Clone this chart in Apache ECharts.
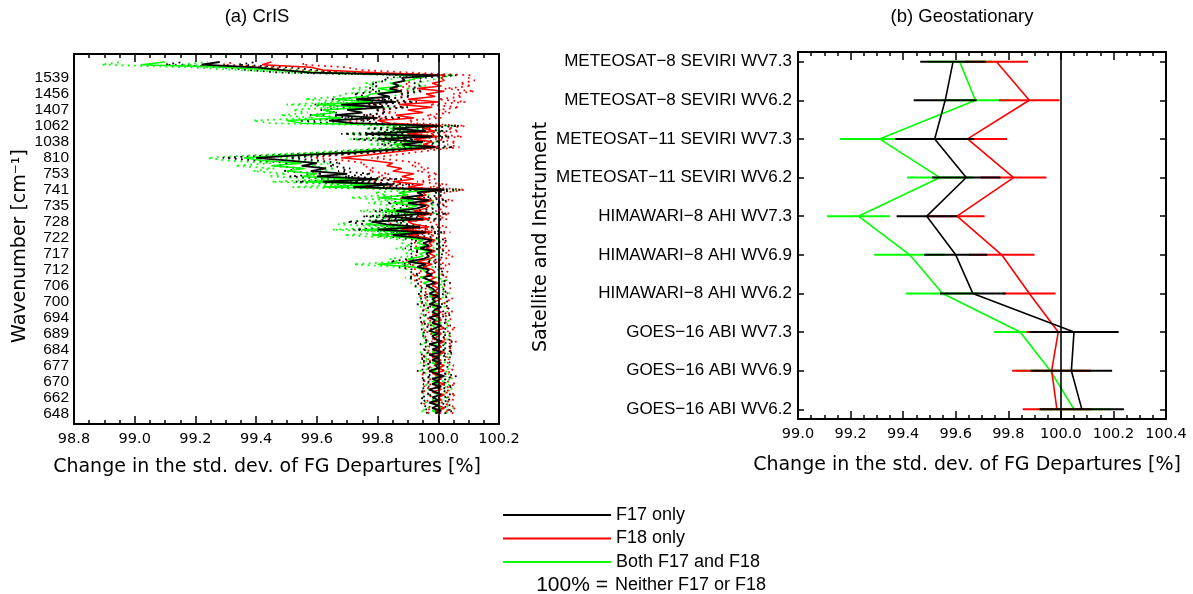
<!DOCTYPE html>
<html>
<head>
<meta charset="utf-8">
<title>Change in the std. dev. of FG departures</title>
<script src="https://cdn.jsdelivr.net/npm/echarts@6/dist/echarts.min.js"></script>
<style>
  html, body { margin: 0; padding: 0; background: #fff; }
  #chart { width: 1193px; height: 594px; }
</style>
</head>
<body>
<div id="chart"></div>
<script>
'use strict';

// ---------- (a) CrIS : one value per channel, bottom (648) to top ----------
var wnLabels = ['648', '662', '670', '677', '684', '689', '694', '700', '706', '712', '717',
                '722', '728', '735', '741', '753', '810', '1038', '1062', '1407', '1456', '1539'];
var chPerLabel = 6;   // channels between two labelled wavenumbers

var crisF17 = [
  99.99, 100.01, 99.98, 100.00, 99.97, 100.00,
  99.98, 100.01, 99.99, 99.97, 100.01, 99.98,
  100.00, 99.98, 100.02, 99.99, 99.97, 100.00,
  99.99, 100.01, 99.98, 100.00, 99.97, 100.01,
  99.98, 100.00, 99.97, 100.01, 99.99, 99.98,
  100.00, 99.97, 99.99, 100.01, 99.98, 99.99,
  99.97, 100.00, 99.98, 99.99, 100.01, 99.97,
  99.99, 99.98, 100.00, 99.97, 99.99, 99.98,
  99.96, 99.99, 99.97, 99.95, 99.98, 99.96,
  99.97, 99.93, 99.96, 99.90, 99.95, 99.97,
  99.96, 99.98, 99.94, 99.97, 99.95, 99.98,
  99.93, 99.85, 99.96, 99.80, 99.94, 99.83,
  99.78, 99.95, 99.82, 99.97, 99.86, 99.93,
  99.96, 99.90, 99.97, 99.88, 99.95, 99.93,
  100.02, 99.72, 99.85, 99.62, 99.80, 99.60,
  99.70, 99.58, 99.63, 99.55, 99.60, 99.50,
  99.40, 99.55, 99.72, 99.84, 99.99, 99.88,
  99.95, 99.80, 99.98, 99.76, 99.96, 99.85,
  100.00, 99.72, 99.64, 99.80, 99.66, 99.75,
  99.70, 99.82, 99.68, 99.86, 99.73, 99.84,
  99.80, 99.88, 99.84, 99.87, 99.85, 99.89,
  99.88, 100.00, 99.58, 99.48, 99.40, 99.22, 99.28
];
var crisF18 = [
  100.01, 99.99, 100.02, 100.00, 99.98, 100.01,
  100.00, 100.02, 99.98, 100.01, 99.99, 100.02,
  99.99, 100.01, 100.00, 99.98, 100.02, 100.00,
  100.02, 99.99, 100.01, 99.98, 100.00, 100.02,
  99.99, 100.01, 100.00, 100.02, 99.98, 100.00,
  100.01, 99.99, 100.02, 100.00, 99.98, 100.01,
  100.00, 99.98, 100.01, 99.99, 100.00, 99.98,
  99.99, 100.01, 99.98, 100.00, 99.99, 100.00,
  99.98, 100.00, 99.97, 99.99, 99.96, 99.99,
  99.98, 99.95, 99.98, 99.93, 99.97, 99.99,
  99.97, 99.99, 99.96, 99.98, 99.97, 99.99,
  99.96, 99.90, 99.98, 99.88, 99.97, 99.92,
  99.90, 99.97, 99.93, 99.98, 99.92, 99.96,
  99.97, 99.94, 99.98, 99.93, 99.96, 99.95,
  100.02, 99.90, 99.95, 99.85, 99.92, 99.88,
  99.92, 99.85, 99.88, 99.83, 99.85, 99.78,
  99.68, 99.76, 99.84, 99.92, 100.00, 99.95,
  99.98, 99.92, 100.00, 99.90, 99.99, 99.95,
  100.01, 99.84, 99.80, 99.92, 99.86, 99.95,
  99.90, 99.98, 99.87, 100.00, 99.90, 99.99,
  99.96, 100.02, 99.93, 100.01, 99.98, 100.02,
  100.01, 100.02, 99.80, 99.62, 99.58, 99.42, 99.45
];
var crisBoth = [
  100.00, 99.98, 100.01, 99.99, 100.00, 99.98,
  99.99, 100.00, 99.98, 100.01, 99.99, 100.00,
  99.98, 100.01, 99.99, 100.00, 99.98, 100.01,
  100.00, 99.98, 100.00, 99.99, 100.01, 99.98,
  99.99, 100.01, 99.98, 100.00, 99.99, 100.00,
  99.98, 100.00, 99.99, 99.98, 100.01, 99.99,
  100.00, 99.98, 99.99, 100.00, 99.98, 100.00,
  99.98, 99.99, 99.97, 100.00, 99.98, 99.97,
  99.97, 99.95, 99.98, 99.94, 99.97, 99.96,
  99.95, 99.92, 99.80, 99.93, 99.90, 99.95,
  99.94, 99.97, 99.92, 99.96, 99.93, 99.95,
  99.90, 99.78, 99.93, 99.75, 99.92, 99.76,
  99.80, 99.92, 99.85, 99.94, 99.82, 99.90,
  99.93, 99.85, 99.92, 99.80, 99.90, 99.87,
  100.00, 99.62, 99.78, 99.56, 99.72, 99.55,
  99.60, 99.50, 99.56, 99.45, 99.55, 99.42,
  99.36, 99.50, 99.68, 99.80, 99.97, 99.85,
  99.93, 99.80, 99.96, 99.78, 99.95, 99.84,
  99.99, 99.55, 99.50, 99.68, 99.58, 99.66,
  99.62, 99.75, 99.60, 99.78, 99.66, 99.76,
  99.78, 99.86, 99.80, 99.88, 99.84, 99.90,
  99.93, 99.98, 99.62, 99.45, 99.30, 99.02, 99.10
];

// half width of the dotted uncertainty range, per channel
var crisF17Err = [
  .03, .04, .03, .04, .03, .04,  .04, .03, .04, .03, .04, .03,
  .03, .04, .04, .03, .04, .03,  .04, .03, .04, .04, .03, .04,
  .03, .04, .03, .04, .04, .03,  .04, .03, .04, .03, .04, .04,
  .03, .04, .03, .04, .03, .04,  .04, .04, .03, .04, .04, .03,
  .04, .05, .04, .05, .04, .05,  .05, .06, .05, .06, .05, .05,
  .05, .04, .05, .05, .04, .05,  .06, .07, .06, .08, .06, .07,
  .08, .06, .07, .06, .07, .06,  .06, .07, .06, .07, .06, .06,
  .06, .08, .07, .09, .08, .09,  .08, .09, .08, .09, .08, .10,
  .11, .09, .08, .07, .06, .07,  .07, .08, .06, .08, .07, .08,
  .07, .09, .10, .08, .09, .08,  .09, .08, .09, .07, .08, .07,
  .08, .07, .07, .07, .07, .06,  .06, .06, .10, .11, .11, .12, .12
];
var crisF18Err = [
  .04, .03, .04, .04, .03, .04,  .03, .04, .04, .03, .04, .04,
  .04, .03, .04, .04, .03, .04,  .03, .04, .03, .04, .04, .03,
  .04, .04, .03, .04, .03, .04,  .03, .04, .04, .03, .04, .03,
  .04, .03, .04, .04, .03, .04,  .03, .04, .04, .03, .04, .04,
  .04, .04, .05, .04, .05, .04,  .05, .05, .06, .05, .05, .06,
  .05, .05, .04, .05, .05, .04,  .06, .07, .06, .07, .06, .07,
  .07, .06, .07, .06, .07, .06,  .06, .06, .07, .06, .06, .07,
  .07, .07, .08, .08, .07, .08,  .08, .08, .09, .08, .09, .09,
  .10, .09, .08, .07, .07, .08,  .08, .07, .08, .07, .08, .08,
  .08, .09, .10, .09, .10, .09,  .10, .09, .10, .09, .10, .09,
  .09, .10, .09, .10, .09, .10,  .09, .09, .11, .12, .12, .13, .12
];
var crisBothErr = [
  .03, .04, .04, .03, .04, .03,  .04, .03, .04, .04, .03, .04,
  .03, .04, .03, .04, .04, .03,  .04, .04, .03, .04, .03, .04,
  .03, .04, .04, .03, .04, .04,  .04, .03, .04, .04, .03, .04,
  .03, .04, .04, .03, .04, .03,  .04, .03, .04, .04, .03, .04,
  .05, .04, .05, .05, .04, .05,  .05, .06, .08, .06, .06, .05,
  .05, .05, .06, .05, .05, .06,  .07, .09, .06, .10, .07, .09,
  .09, .07, .08, .06, .08, .07,  .07, .08, .07, .09, .07, .08,
  .07, .10, .09, .11, .09, .11,  .10, .11, .10, .12, .10, .12,
  .12, .11, .09, .08, .06, .08,  .07, .09, .07, .09, .07, .08,
  .07, .10, .11, .09, .10, .09,  .10, .09, .10, .09, .10, .09,
  .09, .08, .09, .08, .08, .07,  .07, .07, .10, .11, .12, .13, .14
];

// ---------- (b) Geostationary : bottom to top ----------
var geoNames = ['GOES\u221216 ABI WV6.2', 'GOES\u221216 ABI WV6.9', 'GOES\u221216 ABI WV7.3',
                'HIMAWARI\u22128 AHI WV6.2', 'HIMAWARI\u22128 AHI WV6.9', 'HIMAWARI\u22128 AHI WV7.3',
                'METEOSAT\u221211 SEVIRI WV6.2', 'METEOSAT\u221211 SEVIRI WV7.3',
                'METEOSAT\u22128 SEVIRI WV6.2', 'METEOSAT\u22128 SEVIRI WV7.3'];
var geoF17 = [100.08, 100.04, 100.05, 99.665, 99.60, 99.49, 99.64, 99.52, 99.56, 99.59];
var geoF17Err = [0.16, 0.155, 0.17, 0.125, 0.12, 0.115, 0.13, 0.15, 0.12, 0.125];
var geoF18 = [99.985, 99.965, 99.99, 99.88, 99.775, 99.605, 99.82, 99.645, 99.88, 99.755];
var geoF18Err = [0.13, 0.15, 0.12, 0.10, 0.125, 0.105, 0.125, 0.15, 0.115, 0.12];
var geoBoth = [100.05, 99.96, 99.845, 99.55, 99.425, 99.23, 99.54, 99.31, 99.675, 99.615];
var geoBothErr = [0.14, 0.13, 0.10, 0.14, 0.135, 0.12, 0.125, 0.15, 0.13, 0.125];

var legendNames = ['F17 only', 'F18 only', 'Both F17 and F18'];
var colors = { 'F17 only': '#000000', 'F18 only': '#ff0000', 'Both F17 and F18': '#00ff00' };

// ---------- helpers ----------
var labelPos = wnLabels.map(function (w, k) { return k * chPerLabel; });
var geoPos = geoNames.map(function (n, k) { return k; });

function pts(vals) {
    return vals.map(function (v, i) { return [v, i]; });
}
function bound(vals, errs, sign) {
    return vals.map(function (v, i) { return [v + sign * errs[i], i]; });
}
var refLine = {
    silent: true, symbol: ['none', 'none'], label: { show: false },
    lineStyle: { color: '#000', width: 1.6, type: 'solid' },
    data: [{ xAxis: 100 }]
};

var tickFont = { color: '#000', fontFamily: 'DejaVu Sans', fontSize: 14.5, margin: 8,
                 formatter: function (v) { return v.toFixed(1); } };
function xAxisOf(grid, min, max, pos) {
    return {
        type: 'value', gridIndex: grid, position: pos, min: min, max: max, interval: 0.2,
        axisLine: { show: true, onZero: false, lineStyle: { color: '#000', width: 2 } },
        axisTick: { show: true, inside: true, length: 8, lineStyle: { color: '#000', width: 1.5 } },
        minorTick: { show: true, splitNumber: 4, length: 4, lineStyle: { color: '#000', width: 1.5 } },
        axisLabel: pos === 'bottom' ? tickFont : { show: false },
        splitLine: { show: false }
    };
}

var series = [];
// dotted ranges first
[['Both F17 and F18', crisBoth, crisBothErr], ['F18 only', crisF18, crisF18Err],
 ['F17 only', crisF17, crisF17Err]].forEach(function (s) {
    [-1, 1].forEach(function (sign) {
        series.push({
            type: 'line', name: s[0] + (sign < 0 ? ' low' : ' high'),
            xAxisIndex: 0, yAxisIndex: 0, symbol: 'none', silent: true, z: 2,
            itemStyle: { color: colors[s[0]] },
            lineStyle: { color: colors[s[0]], width: 1.8, type: [1.8, 4.5] },
            data: bound(s[1], s[2], sign)
        });
    });
});
// solid CrIS lines
[['Both F17 and F18', crisBoth], ['F18 only', crisF18], ['F17 only', crisF17]].forEach(function (s, k) {
    series.push({
        type: 'line', name: s[0], xAxisIndex: 0, yAxisIndex: 0, symbol: 'none', z: 3 + k,
        itemStyle: { color: colors[s[0]] },
        lineStyle: { color: colors[s[0]], width: s[0] === 'F17 only' ? 1.8 : 1.5 },
        markLine: s[0] === 'F17 only' ? refLine : undefined,
        data: pts(s[1])
    });
});
// geostationary lines and error bars
[['Both F17 and F18', geoBoth, geoBothErr], ['F18 only', geoF18, geoF18Err],
 ['F17 only', geoF17, geoF17Err]].forEach(function (s, k) {
    var col = colors[s[0]];
    series.push({
        type: 'line', name: s[0], xAxisIndex: 2, yAxisIndex: 2, symbol: 'none', z: 3 + k,
        itemStyle: { color: col },
        lineStyle: { color: col, width: 1.6 },
        markLine: s[0] === 'F17 only' ? refLine : undefined,
        data: pts(s[1])
    });
    series.push({
        type: 'custom', name: s[0] + ' range', xAxisIndex: 2, yAxisIndex: 2, z: 3 + k,
        encode: { x: 0, y: 1 },
        data: s[1].map(function (v, i) { return [v, i, s[2][i]]; }),
        renderItem: function (params, api) {
            var c = api.value(0), y = api.value(1), e = api.value(2);
            var a = api.coord([c - e, y]), b = api.coord([c + e, y]);
            return { type: 'line', shape: { x1: a[0], y1: a[1], x2: b[0], y2: b[1] },
                     style: { stroke: col, lineWidth: 2 } };
        }
    });
});

var chart = echarts.init(document.getElementById('chart'), null, { renderer: 'canvas' });
chart.setOption({
    animation: false,
    backgroundColor: '#fff',
    grid: [
        { left: 74, top: 54, width: 425, height: 370, outerBoundsMode: 'none' },
        { left: 798, top: 52, width: 368, height: 367, outerBoundsMode: 'none' }
    ],
    xAxis: [
        xAxisOf(0, 98.8, 100.2, 'bottom'),
        xAxisOf(0, 98.8, 100.2, 'top'),
        xAxisOf(1, 99.0, 100.4, 'bottom'),
        xAxisOf(1, 99.0, 100.4, 'top')
    ],
    yAxis: [
        {
            type: 'value', gridIndex: 0, min: -4, max: 135, position: 'left',
            axisLine: { show: true, onZero: false, lineStyle: { color: '#000', width: 2 } },
            axisTick: { show: false },
            axisLabel: {
                customValues: labelPos, margin: 5, color: '#000',
                fontFamily: 'Liberation Sans', fontSize: 15.5,
                formatter: function (v) { return wnLabels[Math.round(v / chPerLabel)]; }
            },
            splitLine: { show: false }
        },
        {
            type: 'value', gridIndex: 0, min: -4, max: 135, position: 'right',
            axisLine: { show: true, onZero: false, lineStyle: { color: '#000', width: 2 } },
            axisTick: { show: false }, axisLabel: { show: false }, splitLine: { show: false }
        },
        {
            type: 'value', gridIndex: 1, min: -0.25, max: 9.25, position: 'left',
            axisLine: { show: true, onZero: false, lineStyle: { color: '#000', width: 2 } },
            axisTick: { show: true, inside: true, length: 6, customValues: geoPos,
                        lineStyle: { color: '#000', width: 1.5 } },
            axisLabel: {
                customValues: geoPos, margin: 6, color: '#000',
                fontFamily: 'Liberation Sans', fontSize: 17,
                formatter: function (v) { return geoNames[Math.round(v)]; }
            },
            splitLine: { show: false }
        },
        {
            type: 'value', gridIndex: 1, min: -0.25, max: 9.25, position: 'right',
            axisLine: { show: true, onZero: false, lineStyle: { color: '#000', width: 2 } },
            axisTick: { show: true, inside: true, length: 6, customValues: geoPos,
                        lineStyle: { color: '#000', width: 1.5 } },
            axisLabel: { show: false }, splitLine: { show: false }
        }
    ],
    legend: {
        data: legendNames.slice(),
        orient: 'vertical', left: 502, top: 506, padding: 0,
        itemWidth: 108, itemHeight: 14, itemGap: 5.5,
        itemStyle: { opacity: 0 },
        lineStyle: { width: 2 },
        textStyle: { color: '#000', fontFamily: 'Liberation Sans', fontSize: 18 }
    },
    graphic: [
        { type: 'text', x: 257, y: 17, style: { text: '(a) CrIS', align: 'center', verticalAlign: 'middle',
          font: '18.5px "Liberation Sans"', fill: '#000' } },
        { type: 'text', x: 962, y: 17, style: { text: '(b) Geostationary', align: 'center', verticalAlign: 'middle',
          font: '18.5px "Liberation Sans"', fill: '#000' } },
        { type: 'text', x: 267, y: 467, style: { text: 'Change in the std. dev. of FG Departures [%]',
          align: 'center', verticalAlign: 'middle', font: '19px "DejaVu Sans"', fill: '#000' } },
        { type: 'text', x: 967, y: 465, style: { text: 'Change in the std. dev. of FG Departures [%]',
          align: 'center', verticalAlign: 'middle', font: '19px "DejaVu Sans"', fill: '#000' } },
        { type: 'text', x: 20, y: 246, rotation: Math.PI / 2, style: { text: 'Wavenumber [cm\u207B\u00B9]',
          align: 'center', verticalAlign: 'middle', font: '19px "DejaVu Sans"', fill: '#000' } },
        { type: 'text', x: 541, y: 237, rotation: Math.PI / 2, style: { text: 'Satellite and Instrument',
          align: 'center', verticalAlign: 'middle', font: '19px "DejaVu Sans"', fill: '#000' } },
        { type: 'text', x: 608, y: 585, style: { text: '100% =', align: 'right', verticalAlign: 'middle',
          font: '21px "Liberation Sans"', fill: '#000' } },
        { type: 'text', x: 615, y: 585, style: { text: 'Neither F17 or F18', align: 'left', verticalAlign: 'middle',
          font: '18px "Liberation Sans"', fill: '#000' } }
    ],
    series: series
});
</script>
</body>
</html>
